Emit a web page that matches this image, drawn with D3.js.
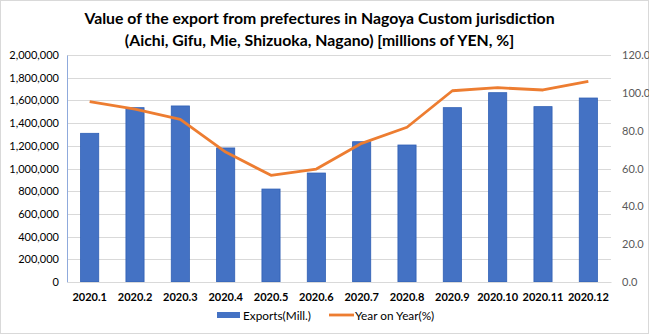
<!DOCTYPE html>
<html><head><meta charset="utf-8">
<script src="https://cdn.jsdelivr.net/npm/d3@7"></script>
<style>body{margin:0;background:#fff}svg{display:block}</style>
</head><body>
<script>
const categories = ["2020.1","2020.2","2020.3","2020.4","2020.5","2020.6","2020.7","2020.8","2020.9","2020.10","2020.11","2020.12"];
const exportsMill = [1310000,1536000,1551000,1181000,819000,960000,1236000,1207000,1536000,1668000,1545000,1621000];
const yearOnYear = [95.3,91.4,86.0,68.7,56.4,59.7,73.3,81.8,101.1,102.7,101.5,106.1];
const leftTicks = [0,200000,400000,600000,800000,1000000,1200000,1400000,1600000,1800000,2000000];
const rightTicks = [0,20,40,60,80,100,120];
const titleLines = ["Value of the export from prefectures in Nagoya Custom jurisdiction","(Aichi, Gifu, Mie, Shizuoka, Nagano) [millions of YEN, %]"];
const legendLabels = ["Exports(Mill.)","Year on Year(%)"];

const W=649,H=334;
const m={l:67,r:611,t:55,b:282};
const font="Lato, 'Open Sans', sans-serif";
const svg=d3.select("body").append("svg").attr("width",W).attr("height",H);
svg.append("rect").attr("x",0.5).attr("y",0.5).attr("width",W-1).attr("height",H-1).attr("fill","#fff").attr("stroke","#d9d9d9");

svg.selectAll("text.title").data(titleLines).join("text").attr("class","title")
  .attr("x",W/2-5).attr("y",(d,i)=>24+i*22).attr("text-anchor","middle")
  .attr("font-family",font).attr("font-weight","bold").attr("font-size",15.8).attr("fill","#000").text(d=>d);

const x=d3.scaleBand().domain(categories).range([m.l,m.r]).paddingInner(0.6).paddingOuter(0.3);
const yL=d3.scaleLinear().domain([0,2000000]).range([m.b,m.t]);
const yR=d3.scaleLinear().domain([0,120]).range([m.b,m.t]);

// gridlines
svg.append("g").selectAll("line").data(leftTicks.slice(1)).join("line")
  .attr("x1",m.l).attr("x2",m.r).attr("y1",d=>Math.round(yL(d))+0.5).attr("y2",d=>Math.round(yL(d))+0.5)
  .attr("stroke","#d9d9d9").attr("stroke-width",1);

// left axis
const gl=svg.append("g").attr("transform",`translate(${m.l},0)`)
  .call(d3.axisLeft(yL).tickValues(leftTicks).tickSize(0).tickPadding(8).tickFormat(d3.format(",")));
gl.select(".domain").attr("stroke","#8faadc");
gl.selectAll("text").attr("font-family",font).attr("font-size",11).attr("fill","#000");

// right axis
const gr=svg.append("g").attr("transform",`translate(${m.r},0)`)
  .call(d3.axisRight(yR).tickValues(rightTicks).tickSize(0).tickPadding(11).tickFormat(d3.format(".1f")));
gr.select(".domain").remove();
gr.selectAll("text").attr("font-family",font).attr("font-size",11).attr("fill","#595959");

// bars
svg.append("g").selectAll("rect").data(exportsMill).join("rect")
  .attr("x",(d,i)=>x(categories[i])).attr("width",x.bandwidth())
  .attr("y",d=>yL(d)).attr("height",d=>m.b-yL(d))
  .attr("fill","#4472c4").attr("stroke","#2f5fb5").attr("stroke-width",0.8);

// bottom axis
const gb=svg.append("g").attr("transform",`translate(0,${m.b})`)
  .call(d3.axisBottom(x).tickSize(0).tickPadding(11));
gb.select(".domain").attr("stroke","#d9d9d9");
gb.selectAll("text").attr("font-family",font).attr("font-size",11).attr("font-weight","bold").attr("fill","#000");

// line
const line=d3.line().x((d,i)=>x(categories[i])+x.bandwidth()/2).y(d=>yR(d));
svg.append("path").datum(yearOnYear).attr("d",line).attr("fill","none")
  .attr("stroke","#ed7d31").attr("stroke-width",2.8).attr("stroke-linejoin","round");

// legend
const lg=svg.append("g").attr("font-family",font).attr("font-size",11.8);
lg.append("rect").attr("x",217).attr("y",312).attr("width",23).attr("height",6).attr("fill","#4472c4");
lg.append("text").attr("x",243).attr("y",319.5).text(legendLabels[0]).attr("fill","#000");
lg.append("line").attr("x1",329).attr("x2",354).attr("y1",315).attr("y2",315).attr("stroke","#ed7d31").attr("stroke-width",2.8);
lg.append("text").attr("x",355).attr("y",319.5).text(legendLabels[1]).attr("fill","#000");
</script>
</body></html>
